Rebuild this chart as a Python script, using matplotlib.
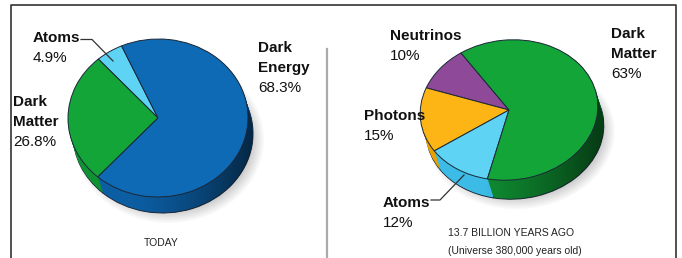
import numpy as np
import matplotlib
matplotlib.use('Agg')
import matplotlib.pyplot as plt
from matplotlib import font_manager
from matplotlib.transforms import Affine2D
from matplotlib.patches import Ellipse
from matplotlib.path import Path

# --- data ---
today_labels = ['Atoms', 'Dark Matter', 'Dark Energy']
today_values = [4.9, 26.8, 68.3]
today_colors = ['#5fd3f4', '#13a538', '#0e6ab4']
today_sides = ['#40bde6', '#0f9232', '#0c5ea3']

early_labels = ['Neutrinos', 'Photons', 'Atoms', 'Dark Matter']
early_values = [10, 15, 12, 63]
early_colors = ['#8e4a99', '#fdb515', '#5fd3f4', '#13a538']
early_sides = ['#793f84', '#e8a100', '#3bbbe6', '#0f8a30']

W, H = 682, 258
fig = plt.figure(figsize=(W / 100, H / 100), dpi=100)
ax = fig.add_axes([0, 0, 1, 1])

# condensed look if the narrow face is there
names = {f.name for f in font_manager.fontManager.ttflist}
if 'Liberation Sans Narrow' in names:
    FONT, SIZE, SMALL = ['Liberation Sans Narrow', 'DejaVu Sans'], 12, 8
else:
    FONT, SIZE, SMALL = ['Liberation Sans', 'DejaVu Sans'], 11, 7.5


def draw_pie(values, colors, sides, cx, cy, rx, ry, tilt, start, depth, dx):
    base = Affine2D().scale(rx, ry).rotate_deg(tilt).scale(1, -1).translate(cx, cy)
    # soft shadow
    for i in range(8):
        sh = Ellipse((cx + dx + 6, cy + depth + 6), 2 * rx + 10 - i * 3, 2 * ry + 8 - i * 3,
                     angle=-tilt, color='#000000', alpha=0.025, lw=0, zorder=1)
        ax.add_patch(sh)
    # side, stacked copies
    for k in range(depth, 0, -1):
        shift = Affine2D().translate(dx * k / depth, k)
        props = dict(linewidth=0)
        if k == depth:
            props = dict(linewidth=0.7, edgecolor='#1b2838')
        wedges, _ = ax.pie(values, colors=sides, startangle=start, wedgeprops=props)
        for w in wedges:
            w.set_transform(base + shift + ax.transData)
            w.set_zorder(2)

    # darken the side towards the right
    t = np.linspace(0, 2 * np.pi, 600)
    unit = np.column_stack([np.cos(t), np.sin(t)])
    pts = base.transform(unit)
    M = base.get_matrix()[:2, :2]
    normals = unit @ np.linalg.inv(M)
    shift = np.array([dx, depth])
    hull = pts + np.where((normals @ shift > 0)[:, None], shift, 0)
    x0, x1 = cx - rx - 4, cx + rx + dx + 4
    xs = np.linspace(x0, x1, 200)
    a = np.clip((xs - (cx - 0.3 * rx)) / (1.3 * rx), 0, 1) ** 1.3 * 0.55
    grad = np.zeros((1, len(xs), 4))
    grad[0, :, 3] = a
    im = ax.imshow(grad, extent=(x0, x1, cy + ry + depth + 6, cy - ry - 6),
                   aspect='auto', zorder=2.5, interpolation='bilinear')
    im.set_clip_path(Path(hull, closed=True), ax.transData)

    # top
    wedges, _ = ax.pie(values, colors=colors, startangle=start,
                       wedgeprops=dict(linewidth=0.7, edgecolor='#1b2838'))
    for w in wedges:
        w.set_transform(base + ax.transData)
        w.set_zorder(3)


draw_pie(today_values, today_colors, today_sides, 158, 118, 90, 79, 1, 113, 16, 5)
draw_pie(early_values, early_colors, early_sides, 509, 110, 89, 70, 6, 118, 19, 6)

# frame lines
ax.plot([11, 11, 676, 676], [H, 5, 5, H], color='#333333', lw=1.2, zorder=0)
ax.plot([327, 327], [49, H], color='#aaaaaa', lw=1.6, zorder=0)

# leader lines
ax.plot([81, 92, 113], [39.5, 39.5, 61], color='#333333', lw=0.9, zorder=5)
ax.plot([431, 440, 464], [200, 200, 175], color='#333333', lw=0.9, zorder=5)


def label(x, y, name, pct):
    lines = name.split('\n')
    for i, s in enumerate(lines):
        ax.text(x, y + 20 * i, s, fontsize=SIZE, fontweight='bold', family=FONT,
                va='baseline', ha='left', color='#111111', zorder=6)
    ax.text(x, y + 20 * len(lines), pct, fontsize=SIZE, family=FONT,
            va='baseline', ha='left', color='#111111', zorder=6)


label(33, 42, 'Atoms', '4.9%')
label(13, 106, 'Dark\nMatter', '26.8%')
label(258, 52, 'Dark\nEnergy', '68.3%')

label(390, 40, 'Neutrinos', '10%')
label(611, 38, 'Dark\nMatter', '63%')
label(364, 120, 'Photons', '15%')
label(383, 207, 'Atoms', '12%')

ax.text(161, 246, 'TODAY', fontsize=SMALL, family=FONT, ha='center', va='baseline', color='#222222')
ax.text(511, 236, '13.7 BILLION YEARS AGO', fontsize=SMALL, family=FONT, ha='center',
        va='baseline', color='#222222')
ax.text(515, 254, '(Universe 380,000 years old)', fontsize=SMALL, family=FONT, ha='center',
        va='baseline', color='#222222')

ax.set_aspect('auto')
ax.set_xlim(0, W)
ax.set_ylim(H, 0)
ax.axis('off')

fig.savefig('out.png', dpi=100)
